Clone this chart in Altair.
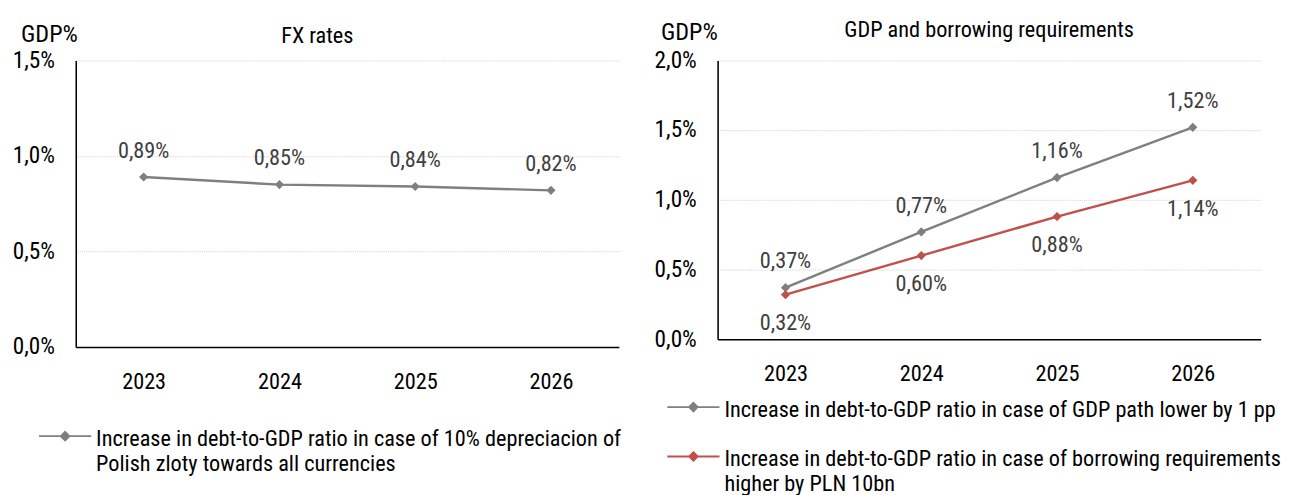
import altair as alt
import pandas as pd

years = ["2023", "2024", "2025", "2026"]
fx_values = [0.89, 0.85, 0.84, 0.82]
gdp_values = [0.37, 0.77, 1.16, 1.52]
borrow_values = [0.32, 0.60, 0.88, 1.14]

fx_name = "Increase in debt-to-GDP ratio in case of 10% depreciacion of|Polish zloty towards all currencies"
gdp_name = "Increase in debt-to-GDP ratio in case of GDP path lower by 1 pp"
borrow_name = "Increase in debt-to-GDP ratio in case of borrowing requirements|higher by PLN 10bn"

GRAY = "#7f7f7f"
RED = "#c0504d"
FONT = "Liberation Sans Narrow, Arial Narrow, Roboto Condensed, Liberation Sans, sans-serif"
LBL = "replace(format(datum.value, '.1f'), '.', ',') + '%'"
VAL = "replace(format(datum.value, '.2f'), '.', ',') + '%'"
SYMBOL = "M-1,0.3H1M0,0.14L0.16,0.3L0,0.46L-0.16,0.3Z"


def panel(df, domain, ticks, width, height, title, title_dx, title_offset, gdp_x, gdp_y, colors, legend_x, legend_y):
    x = alt.X("year:O", title=None, scale=alt.Scale(type="point", padding=0.5),
              axis=alt.Axis(labelAngle=0, labelPadding=25, labelFontSize=23, domainColor="black",
                            domainWidth=1.6, ticks=False, grid=False))
    y = alt.Y("value:Q", scale=alt.Scale(domain=domain, nice=False, zero=True),
              axis=alt.Axis(values=ticks, labelExpr=LBL, labelFontSize=24, title="GDP%", titleAngle=0,
                            titleAlign="left", titleBaseline="alphabetic", titleX=gdp_x, titleY=gdp_y,
                            titleFontSize=25, titleFontWeight="normal", titleFont=FONT, titleColor="black",
                            labelPadding=22, domainColor="black", domainWidth=1.6, ticks=False,
                            grid=True, gridColor="#d0d0d0", gridDash=[1, 1], gridWidth=1))
    color = alt.Color("series:N", scale=alt.Scale(domain=[d for d, _ in colors], range=[c for _, c in colors]),
                      legend=alt.Legend(orient="none", legendX=legend_x, legendY=legend_y, title=None,
                                        symbolType=SYMBOL, symbolSize=2900, symbolStrokeWidth=2,
                                        labelExpr="split(datum.label, '|')", labelLimit=1000,
                                        labelFontSize=23, labelFont=FONT, labelColor="black",
                                        labelOffset=4, rowPadding=0, labelBaseline="top"))
    base = alt.Chart(df).encode(x=x, y=y)
    line = base.mark_line(strokeWidth=2.5, point=alt.OverlayMarkDef(shape="diamond", filled=True, size=90)).encode(color=color)
    if "pos" in df.columns:
        up = base.transform_filter("datum.pos == 'above'").transform_calculate(lbl=VAL).mark_text(
            dy=-27, fontSize=23, font=FONT, color="#404040").encode(text=alt.Text("lbl:N"))
        down = base.transform_filter("datum.pos == 'below'").transform_calculate(lbl=VAL).mark_text(
            dy=30, fontSize=23, font=FONT, color="#404040").encode(text=alt.Text("lbl:N"))
        layers = [line, up, down]
    else:
        up = base.transform_calculate(lbl=VAL).mark_text(
            dy=-27, fontSize=23, font=FONT, color="#404040").encode(text=alt.Text("lbl:N"))
        layers = [line, up]
    return alt.layer(*layers).properties(
        width=width, height=height,
        title=alt.TitleParams(title, fontSize=23, font=FONT, fontWeight="normal", color="black",
                              dx=title_dx, offset=title_offset),
    )


left_df = pd.DataFrame({"year": years, "value": fx_values, "series": fx_name})
right_df = pd.concat([
    pd.DataFrame({"year": years, "value": gdp_values, "series": gdp_name, "pos": "above"}),
    pd.DataFrame({"year": years, "value": borrow_values, "series": borrow_name, "pos": "below"}),
])

left = panel(left_df, [0, 1.5], [0, 0.5, 1.0, 1.5], 561, 296, "FX rates", -31, -27, -57, -20,
             [(fx_name, GRAY)], -39, 352)
right = panel(right_df, [0, 2.0], [0, 0.5, 1.0, 1.5, 2.0], 561, 288, "GDP and borrowing requirements", 0, -23,
              -59, -22, [(gdp_name, GRAY), (borrow_name, RED)], -53, 322)

chart = alt.hconcat(left, right, spacing=33).resolve_scale(color="independent").resolve_legend(
    color="independent"
).properties(padding={"left": 4, "top": 4, "right": 0, "bottom": 0}).configure(
    style={"guide-label": {"lineHeight": 26}}
).configure_view(stroke=None).configure_axis(
    labelFont=FONT, labelColor="black"
)

chart.save("out.html", embed_options={"renderer": "svg", "actions": False})
